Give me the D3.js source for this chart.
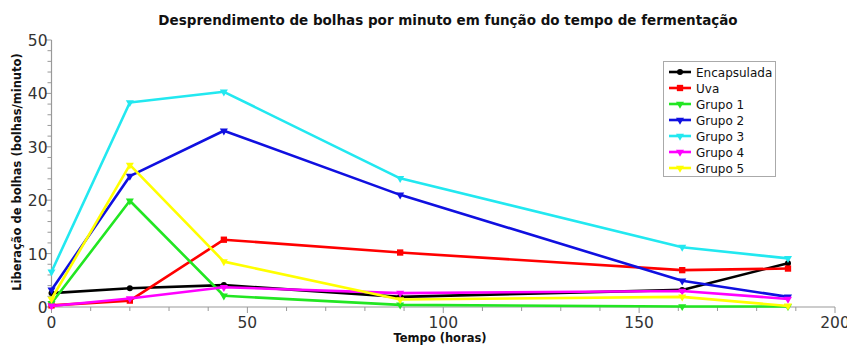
<!DOCTYPE html>
<html><head><meta charset="utf-8">
<script src="https://cdn.jsdelivr.net/npm/d3@7"></script>
<style>body{margin:0;background:#fff}svg{display:block}</style>
</head><body>
<svg id="c" width="847" height="345"></svg>
<script>
const times = [0, 20, 44, 89, 161, 188];
const seriesNames = ["Encapsulada","Uva","Grupo 1","Grupo 2","Grupo 3","Grupo 4","Grupo 5"];
const encapsulada = [2.6, 3.5, 4.1, 1.9, 3.2, 8.2];
const uva = [0.3, 1.2, 12.6, 10.2, 6.9, 7.2];
const grupo1 = [0.7, 19.9, 2.1, 0.4, 0.1, 0.1];
const grupo2 = [3.2, 24.5, 33.0, 21.0, 4.9, 1.9];
const grupo3 = [6.6, 38.3, 40.3, 24.1, 11.2, 9.1];
const grupo4 = [0.2, 1.6, 3.7, 2.6, 3.0, 1.5];
const grupo5 = [1.5, 26.6, 8.5, 1.4, 1.9, 0.2];
const xTicks = [0, 50, 100, 150, 200];
const yTicks = [0, 10, 20, 30, 40, 50];
const colors = ["#000000","#ff0000","#22e622","#1010e0","#22e8f0","#ff00ff","#ffff00"];
const symbolsT = [d3.symbolCircle, d3.symbolSquare, d3.symbolTriangle, d3.symbolTriangle, d3.symbolTriangle, d3.symbolTriangle, d3.symbolTriangle];
const allVals = [encapsulada, uva, grupo1, grupo2, grupo3, grupo4, grupo5];

const svg = d3.select("#c");
const font = "DejaVu Sans, Verdana, sans-serif";
const x = d3.scaleLinear().domain([0,200]).range([51.5,835]);
const y = d3.scaleLinear().domain([0,50]).range([307,40]);

// axes
const gx = svg.append("g").attr("transform","translate(0,307)");
gx.append("line").attr("x1",x(0)).attr("x2",x(200)).attr("stroke","#999").attr("stroke-width",1.2);
gx.selectAll(".mt").data(d3.range(0,201,10)).join("line")
  .attr("x1",d=>x(d)).attr("x2",d=>x(d)).attr("y1",0).attr("y2",d=>d%50===0?6:4)
  .attr("stroke","#999");
gx.selectAll("text").data(xTicks).join("text")
  .attr("x",d=>x(d)).attr("y",21).attr("text-anchor","middle")
  .attr("font-family",font).attr("font-size",15.5).attr("fill","#333").text(d=>d);

const gy = svg.append("g");
gy.append("line").attr("x1",x(0)).attr("x2",x(0)).attr("y1",y(0)).attr("y2",y(50)).attr("stroke","#999").attr("stroke-width",1.2);
gy.selectAll(".mt").data(d3.range(0,51,2)).join("line")
  .attr("x1",x(0)).attr("x2",d=>x(0)-(d%10===0?6:4)).attr("y1",d=>y(d)).attr("y2",d=>y(d))
  .attr("stroke","#999");
gy.selectAll("text").data(yTicks).join("text")
  .attr("x",x(0)-4).attr("y",d=>y(d)+6).attr("text-anchor","end")
  .attr("font-family",font).attr("font-size",15.5).attr("fill","#333").text(d=>d);

// title & labels
svg.append("text").attr("x",448).attr("y",25).attr("text-anchor","middle")
  .attr("font-family",font).attr("font-weight","bold").attr("font-size",13.5).attr("fill","#111")
  .text("Desprendimento de bolhas por minuto em função do tempo de fermentação");
svg.append("text").attr("x",440).attr("y",342).attr("text-anchor","middle")
  .attr("font-family",font).attr("font-weight","bold").attr("font-size",11.5).attr("fill","#111")
  .text("Tempo (horas)");
svg.append("text").attr("transform","translate(21,172) rotate(-90)").attr("text-anchor","middle")
  .attr("font-family",font).attr("font-weight","bold").attr("font-size",11.5).attr("fill","#111")
  .text("Liberação de bolhas (bolhas/minuto)");

// lines
const line = d3.line().x((d,i)=>x(times[i])).y(d=>y(d));
const order = [0,1,2,3,4,5,6];
order.forEach(k=>{
  svg.append("path").datum(allVals[k]).attr("d",line).attr("fill","none")
    .attr("stroke",colors[k]).attr("stroke-width",2.6).attr("stroke-linejoin","round");
  svg.append("g").selectAll("path").data(allVals[k]).join("path")
    .attr("transform",(d,i)=>`translate(${x(times[i])},${y(d)})${k>=2?" rotate(180)":""}`)
    .attr("d",d3.symbol().type(symbolsT[k]).size(k===1?40:28))
    .attr("fill",colors[k]);
});

// legend
const lg = svg.append("g");
lg.append("rect").attr("x",663.5).attr("y",61.5).attr("width",112).attr("height",115)
  .attr("fill","#fff").attr("stroke","#aaa").attr("stroke-width",1);
seriesNames.forEach((n,k)=>{
  const yy = 72 + k*16;
  lg.append("line").attr("x1",669).attr("x2",691).attr("y1",yy).attr("y2",yy)
    .attr("stroke",colors[k]).attr("stroke-width",2.6);
  lg.append("path").attr("transform",`translate(680,${yy})${k>=2?" rotate(180)":""}`)
    .attr("d",d3.symbol().type(symbolsT[k]).size(k===1?40:28)).attr("fill",colors[k]);
  lg.append("text").attr("x",696).attr("y",yy+4.5).attr("font-family",font)
    .attr("font-size",12).attr("fill","#111").text(n);
});
</script>
</body></html>
